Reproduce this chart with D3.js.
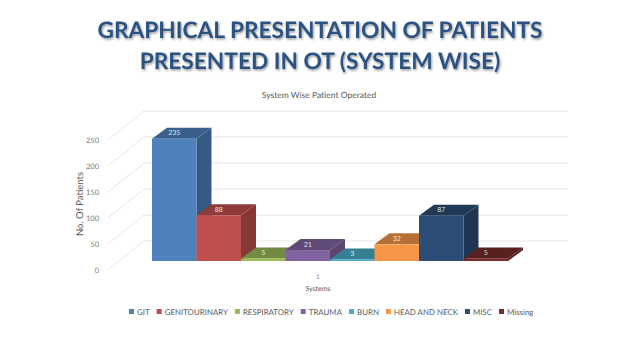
<!DOCTYPE html>
<html>
<head>
<meta charset="utf-8">
<script src="https://cdn.jsdelivr.net/npm/d3@7"></script>
<style>
  html, body { margin: 0; padding: 0; background: #fff; }
  text { font-family: Lato, "Open Sans", sans-serif; text-rendering: geometricPrecision; }
</style>
</head>
<body>
<div id="chart"></div>
<script>
// values
const systems = ["GIT", "GENITOURINARY", "RESPIRATORY", "TRAUMA", "BURN", "HEAD AND NECK", "MISC", "Missing"];
const patients = [235, 88, 5, 21, 3, 32, 87, 5];
const colors = ["#4f81bd", "#c0504d", "#9bbb59", "#8064a2", "#4bacc6", "#f79646", "#2c4d75", "#772c2a"];
const yTicks = [0, 50, 100, 150, 200, 250];
const titleLines = ["GRAPHICAL PRESENTATION OF PATIENTS", "PRESENTED IN OT (SYSTEM WISE)"];

const width = 640, height = 360;

const svg = d3.select("#chart").append("svg")
    .attr("width", width)
    .attr("height", height);

// drop shadow for the slide heading
const defs = svg.append("defs");
defs.append("filter").attr("id", "shadow")
    .attr("x", "-5%").attr("y", "-20%").attr("width", "110%").attr("height", "140%")
  .append("feDropShadow")
    .attr("dx", 1).attr("dy", 1.5).attr("stdDeviation", 1.2)
    .attr("flood-color", "#000").attr("flood-opacity", 0.4);

svg.append("g").selectAll("text")
  .data(titleLines)
  .join("text")
    .attr("x", 320)
    .attr("y", (d, i) => 38 + i * 31)
    .attr("text-anchor", "middle")
    .attr("font-size", 22.7)
    .attr("font-weight", 700)
    .attr("fill", "#2b5384")
    .attr("filter", "url(#shadow)")
    .text(d => d);

svg.append("text")
    .attr("x", 319).attr("y", 98)
    .attr("text-anchor", "middle")
    .attr("font-size", 8.5)
    .attr("fill", "#595959")
    .text("System Wise Patient Operated");

// scales for the front plane of the bars
const x = d3.scaleBand().domain(systems).range([152, 508]);
const y = d3.scaleLinear().domain([0, 250]).range([261, 131]);

// 3d offsets
const depthX = 15, depthY = -11;      // bar depth
const wallX = 144, wallY = -20;       // back wall
const sideX = 108, sideY = 9;         // front edge of the side wall
const wallEnd = 568;

// gridlines
const grid = svg.append("g")
    .attr("fill", "none")
    .attr("stroke", "#e6e6e6")
    .attr("stroke-width", 1);

grid.selectAll("path")
  .data(yTicks)
  .join("path")
    .attr("d", d => `M${sideX},${y(d) + sideY}L${wallX},${y(d) + wallY}L${wallEnd},${y(d) + wallY}`);

svg.append("g").selectAll("text")
  .data(yTicks)
  .join("text")
    .attr("x", 99)
    .attr("y", d => y(d) + sideY + 3)
    .attr("text-anchor", "end")
    .attr("font-size", 7.5)
    .attr("fill", "#7f7f7f")
    .text(d => d);

// bars: side, top, then front
const rows = systems.map((name, i) => ({ name, value: patients[i], color: colors[i] }));

const bars = svg.append("g").selectAll("g")
  .data(rows)
  .join("g");

bars.append("path")
    .attr("fill", d => d3.color(d.color).darker(1))
    .attr("d", d => {
      const r = x(d.name) + x.bandwidth();
      return `M${r},${y(0)}L${r + depthX},${y(0) + depthY}L${r + depthX},${y(d.value) + depthY}L${r},${y(d.value)}Z`;
    });

bars.append("path")
    .attr("fill", d => d3.color(d.color).darker(0.85))
    .attr("d", d => {
      const l = x(d.name), r = l + x.bandwidth();
      const t = y(d.value);
      return `M${l},${t}L${l + depthX},${t + depthY}L${r + depthX},${t + depthY}L${r},${t}Z`;
    });

bars.append("rect")
    .attr("x", d => x(d.name))
    .attr("y", d => y(d.value))
    .attr("width", x.bandwidth())
    .attr("height", d => y(0) - y(d.value))
    .attr("fill", d => d.color);

// value labels sit on the top face
bars.append("text")
    .attr("x", d => x(d.name) + x.bandwidth() / 2)
    .attr("y", d => y(d.value) + depthY / 2 + 2)
    .attr("text-anchor", "middle")
    .attr("font-size", 7)
    .attr("fill", "#fff")
    .attr("fill-opacity", 0.85)
    .text(d => d.value);

// axis titles
svg.append("text")
    .attr("transform", "translate(83,204) rotate(-90)")
    .attr("text-anchor", "middle")
    .attr("font-size", 9.5)
    .attr("fill", "#595959")
    .text("No. Of Patients");

svg.append("text")
    .attr("x", 318).attr("y", 279)
    .attr("text-anchor", "middle")
    .attr("font-size", 6.5)
    .attr("fill", "#7f7f7f")
    .text("1");

svg.append("text")
    .attr("x", 318).attr("y", 291)
    .attr("text-anchor", "middle")
    .attr("font-size", 7)
    .attr("fill", "#595959")
    .text("Systems");

// legend, laid out from the measured label widths
const legend = svg.append("g");
let legendX = 129;
rows.forEach(d => {
  legend.append("rect")
      .attr("x", legendX).attr("y", 309)
      .attr("width", 5).attr("height", 5)
      .attr("fill", d.color);
  const label = legend.append("text")
      .attr("x", legendX + 8).attr("y", 315)
      .attr("font-size", 7.9)
      .attr("fill", "#595959")
      .text(d.name);
  legendX += 8 + label.node().getComputedTextLength() + 7;
});
</script>
</body>
</html>
